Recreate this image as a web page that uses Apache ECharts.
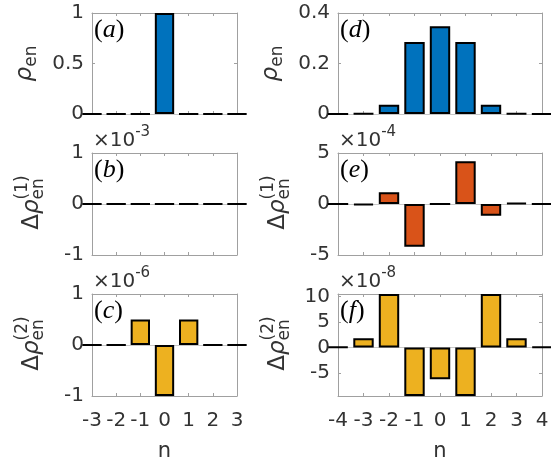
<!DOCTYPE html>
<html><head><meta charset="utf-8">
<script src="https://cdn.jsdelivr.net/npm/echarts@6/dist/echarts.min.js"></script>
<style>html,body{margin:0;padding:0;background:#fff}#c{width:551px;height:462px}</style>
</head><body><div id="c"></div>
<script>
// ---- data ----
var nLeft = [-3, -2, -1, 0, 1, 2, 3];
var nRight = [-4, -3, -2, -1, 0, 1, 2, 3, 4];
var rhoA = [0, 0, 0, 1, 0, 0, 0];                  // (a)
var d1B = [0, 0, 0, 0, 0, 0, 0];                    // (b) x1e-3
var d2C = [0, 0, 0.5, -1, 0.5, 0, 0];               // (c) x1e-6
var rhoD = [0.0001, 0.002, 0.037, 0.285, 0.348, 0.285, 0.037, 0.002, 0.0001]; // (d)
var d1E = [0, -0.12, 1.15, -4.2, 0, 4.2, -1.15, 0.12, 0];   // (e) x1e-4
var d2F = [0.15, 1.8, 10.5, -9.5, -6.2, -9.5, 10.5, 1.8, 0.15]; // (f) x1e-8
var leftTicks = [-3, -2, -1, 0, 1, 2, 3];
var rightTicks = [-4, -3, -2, -1, 0, 1, 2, 3, 4];
var panelLetters = ['a', 'b', 'c', 'd', 'e', 'f'];

// ---- layout ----
var FONT = 'DejaVu Sans';
var TXT = '#333';
var BOX = '#a0a0a0';
var cols = [{left: 92, width: 145}, {left: 338, width: 204}];
var rows = [{top: 13, height: 101}, {top: 153, height: 102}, {top: 294, height: 102}];
var BLUE = '#0072BD', ORANGE = '#D95319', YELLOW = '#EDB120';

var panels = [
  {col: 0, row: 0, n: nLeft, v: rhoA, color: BLUE, ymin: 0, ymax: 1, ticks: [0, 0.5, 1], sup: null, exp: null},
  {col: 0, row: 1, n: nLeft, v: d1B, color: ORANGE, ymin: -1, ymax: 1, ticks: [-1, 0, 1], sup: '(1)', exp: '-3'},
  {col: 0, row: 2, n: nLeft, v: d2C, color: YELLOW, ymin: -1, ymax: 1, ticks: [-1, 0, 1], sup: '(2)', exp: '-6'},
  {col: 1, row: 0, n: nRight, v: rhoD, color: BLUE, ymin: 0, ymax: 0.4, ticks: [0, 0.2, 0.4], sup: null, exp: null},
  {col: 1, row: 1, n: nRight, v: d1E, color: ORANGE, ymin: -5, ymax: 5, ticks: [-5, 0, 5], sup: '(1)', exp: '-4'},
  {col: 1, row: 2, n: nRight, v: d2F, color: YELLOW, ymin: -9.5, ymax: 10.5, ticks: [-5, 0, 5, 10], sup: '(2)', exp: '-8'}
];

var grid = [], xAxis = [], yAxis = [], series = [], graphic = [];
var ctx = document.createElement('canvas').getContext('2d');
function tw(t, f) { ctx.font = f; return ctx.measureText(t).width; }

panels.forEach(function (p, i) {
  var c = cols[p.col], r = rows[p.row];
  grid.push({left: c.left, top: r.top, width: c.width, height: r.height, containLabel: false, outerBoundsMode: 'none'});
  var xt = p.col === 0 ? leftTicks : rightTicks;
  var xmin = xt[0], xmax = xt[xt.length - 1];
  var showX = p.row === 2;
  var axLine = {show: true, onZero: false, lineStyle: {color: BOX, width: 1}};
  var tick = {show: true, inside: true, length: 3, lineStyle: {color: BOX}, customValues: xt};
  xAxis.push({gridIndex: i, type: 'value', min: xmin, max: xmax, position: 'bottom',
    axisLine: axLine, axisTick: tick, splitLine: {show: false},
    axisLabel: {show: showX, customValues: xt, color: TXT, fontFamily: FONT, fontSize: 20, margin: 15},
    name: showX ? 'n' : '', nameLocation: 'middle', nameGap: 45,
    nameTextStyle: {color: TXT, fontFamily: FONT, fontSize: 21}});
  xAxis.push({gridIndex: i, type: 'value', min: xmin, max: xmax, position: 'top',
    axisLine: axLine, axisTick: tick, splitLine: {show: false}, axisLabel: {show: false}});
  var ytick = {show: true, inside: true, length: 3, lineStyle: {color: BOX}, customValues: p.ticks};
  yAxis.push({gridIndex: i, type: 'value', min: p.ymin, max: p.ymax, position: 'left',
    axisLine: axLine, axisTick: ytick, splitLine: {show: false},
    axisLabel: {show: true, customValues: p.ticks, color: TXT, fontFamily: FONT, fontSize: 20, margin: 8}});
  yAxis.push({gridIndex: i, type: 'value', min: p.ymin, max: p.ymax, position: 'right',
    axisLine: axLine, axisTick: ytick, splitLine: {show: false}, axisLabel: {show: false}});
  series.push({type: 'bar', xAxisIndex: 2 * i, yAxisIndex: 2 * i, barWidth: '80%', clip: true,
    data: p.n.map(function (n, k) { return [n, p.v[k]]; }),
    itemStyle: {color: p.color, borderColor: '#000', borderWidth: 2},
    markLine: {silent: true, symbol: 'none', label: {show: false},
      lineStyle: {color: '#c8c8c8', width: 1, type: 'solid'}, data: [{yAxis: 0}], z: 1},
    z: 2});

  // panel letter
  graphic.push({type: 'text', left: c.left + 2, top: r.top + 4,
    style: {text: '{p|(}{l|' + panelLetters[i] + '}{p|)}', rich: {
      p: {fontFamily: 'Liberation Serif', fontSize: 26, fill: '#000'},
      l: {fontFamily: 'Liberation Serif', fontStyle: 'italic', fontSize: 26, fill: '#000'}}}});

  // exponent labels
  if (p.exp) {
    graphic.push({type: 'text', left: c.left + 1, top: r.top - 28,
      style: {text: '{a|×10}{b|' + p.exp + '}', rich: {
        a: {fontFamily: FONT, fontSize: 20, fill: TXT, verticalAlign: 'bottom', lineHeight: 26},
        b: {fontFamily: FONT, fontSize: 15, fill: TXT, verticalAlign: 'top', lineHeight: 26}}}});
  }

  // y-axis label (rotated)
  var fDelta = '23px "' + FONT + '"', fRho = 'italic 23px "' + FONT + '"', fSub = '17px "' + FONT + '"';
  var wDelta = p.sup ? tw('Δ', fDelta) : 0;
  var wRho = tw('ρ', fRho), wSub = tw('en', fSub);
  var wMain = wDelta + wRho;
  var total = wMain + wSub;
  var start = -total / 2;
  var children = [
    {type: 'text', x: start + wDelta, y: 0, style: {text: 'ρ', font: fRho, fill: TXT, textAlign: 'left', textVerticalAlign: 'middle'}},
    {type: 'text', x: start + wMain, y: 7, style: {text: 'en', font: fSub, fill: TXT, textAlign: 'left', textVerticalAlign: 'middle'}}
  ];
  if (p.sup) {
    children.push({type: 'text', x: start, y: 0, style: {text: 'Δ', font: fDelta, fill: TXT, textAlign: 'left', textVerticalAlign: 'middle'}});
    children.push({type: 'text', x: start + wMain, y: -9, style: {text: p.sup, font: fSub, fill: TXT, textAlign: 'left', textVerticalAlign: 'middle'}});
  }
  graphic.push({type: 'group', x: c.left - 67 + (p.sup ? 7 : 0), y: r.top + r.height / 2, rotation: Math.PI / 2, children: children});
});

var chart = echarts.init(document.getElementById('c'), null, {renderer: 'canvas'});
chart.setOption({animation: false, grid: grid, xAxis: xAxis, yAxis: yAxis, series: series, graphic: graphic});
</script></body></html>
